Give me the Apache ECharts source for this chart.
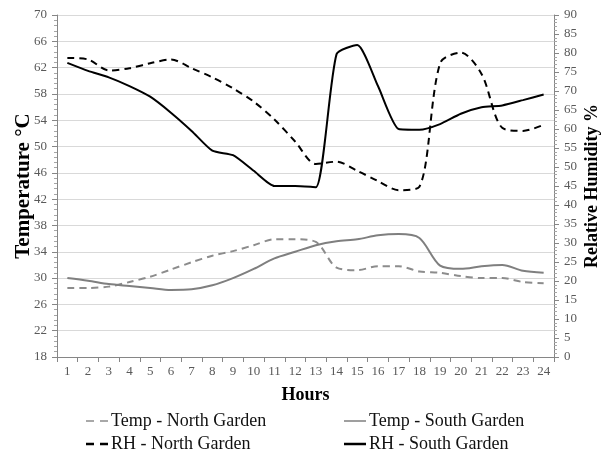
<!DOCTYPE html>
<html>
<head>
<meta charset="utf-8">
<script src="https://cdn.jsdelivr.net/npm/echarts@6/dist/echarts.min.js"></script>
<style>html,body{margin:0;padding:0;background:#fff}#c{width:606px;height:455px}</style>
</head>
<body>
<div id="c"></div>
<script>
const hours = ['1','2','3','4','5','6','7','8','9','10','11','12','13','14','15','16','17','18','19','20','21','22','23','24'];
const tempNorth = [28.5,28.5,28.7,29.4,30.2,31.3,32.4,33.4,34.1,35.0,35.9,35.9,35.5,31.6,31.2,31.8,31.8,31.0,30.8,30.3,30.0,30.0,29.4,29.2];
const tempSouth = [30.0,29.6,29.1,28.8,28.5,28.2,28.3,28.9,30.0,31.4,33.0,34.0,35.0,35.6,35.9,36.5,36.7,36.1,31.9,31.4,31.8,32.0,31.1,30.8];
const rhNorth = [78.7,78.3,75.4,76.0,77.3,78.3,76.0,73.6,70.7,67.2,62.5,56.7,50.8,51.4,49.0,46.3,43.9,44.8,77.3,80.1,74.5,60.3,59.5,61.1];
const rhSouth = [77.4,75.3,73.6,71.3,68.5,64.3,59.5,54.3,53.1,49.0,45.0,45.0,44.7,79.7,82.1,71.3,60.0,59.8,61.3,64.0,65.7,66.2,67.6,69.1];

const FONT = 'Liberation Serif';
const chart = echarts.init(document.getElementById('c'), null, {renderer: 'canvas'});
const axisGray = '#868686';
const labelGray = '#595959';
const DASH_THIN = 'path://M0,0H8V1.5H0Z M14,0H22V1.5H14Z';
const SOLID_THIN = 'path://M0,0H22V1.5H0Z';
const DASH_THICK = 'path://M0,0H8V2.5H0Z M14,0H22V2.5H14Z';
const SOLID_THICK = 'path://M0,0H22V2.5H0Z';
function legendAt(name, icon, h, left, top) {
  return {
    data: [{name: name, icon: icon}], left: left, top: top, itemWidth: 22, itemHeight: h,
    itemStyle: {borderWidth: 0},
    textStyle: {fontFamily: FONT, fontSize: 18, color: '#111', padding: [0, 0, 0, -2]}, padding: 0
  };
}
chart.setOption({
  animation: false,
  backgroundColor: '#fff',
  grid: {left: 57, right: 52, top: 15, bottom: 98, containLabel: false, outerBoundsMode: 'none'},
  legend: [
    legendAt('Temp - North Garden', DASH_THIN, 1.5, 86, 412),
    legendAt('Temp - South Garden', SOLID_THIN, 1.5, 344, 412),
    legendAt('RH - North Garden', DASH_THICK, 2.5, 86, 435),
    legendAt('RH - South Garden', SOLID_THICK, 2.5, 344, 435)
  ],
  xAxis: {
    type: 'category', data: hours, boundaryGap: true,
    name: 'Hours', nameLocation: 'middle', nameGap: 29,
    nameTextStyle: {fontFamily: FONT, fontSize: 18, fontWeight: 'bold', color: '#000'},
    axisLine: {lineStyle: {color: axisGray}},
    axisTick: {show: true, length: 5, lineStyle: {color: axisGray}},
    axisLabel: {fontFamily: FONT, fontSize: 13, color: labelGray, margin: 8, interval: 0},
    splitLine: {show: false}
  },
  yAxis: [
    {
      type: 'value', min: 18, max: 70, interval: 4, position: 'left',
      name: 'Temperature °C', nameLocation: 'middle', nameGap: 23, nameRotate: 90, nameMoveOverlap: false,
      nameTextStyle: {fontFamily: FONT, fontSize: 21, fontWeight: 'bold', color: '#000'},
      axisLine: {show: true, lineStyle: {color: axisGray}},
      axisTick: {show: true, length: 5, lineStyle: {color: axisGray}},
      minorTick: {show: true, splitNumber: 5, length: 3, lineStyle: {color: '#a6a6a6'}},
      axisLabel: {fontFamily: FONT, fontSize: 13, color: labelGray, margin: 10},
      splitLine: {show: true, lineStyle: {color: '#d9d9d9', width: 1}}
    },
    {
      type: 'value', min: 0, max: 90, interval: 5, position: 'right',
      name: 'Relative Humidity %', nameLocation: 'middle', nameGap: 29, nameRotate: 90, nameMoveOverlap: false,
      nameTextStyle: {fontFamily: FONT, fontSize: 18, fontWeight: 'bold', color: '#000'},
      axisLine: {show: true, lineStyle: {color: axisGray}},
      axisTick: {show: true, length: 5, lineStyle: {color: axisGray}},
      minorTick: {show: true, splitNumber: 5, length: 3, lineStyle: {color: '#a6a6a6'}},
      axisLabel: {fontFamily: FONT, fontSize: 13, color: labelGray, margin: 10},
      splitLine: {show: false}
    }
  ],
  series: [
    {name: 'Temp - North Garden', type: 'line', yAxisIndex: 0, data: tempNorth, symbol: 'none', smooth: 0.3,
     lineStyle: {color: '#8c8c8c', width: 2, type: [7, 5]}, itemStyle: {color: '#8c8c8c'}},
    {name: 'Temp - South Garden', type: 'line', yAxisIndex: 0, data: tempSouth, symbol: 'none', smooth: 0.3,
     lineStyle: {color: '#7f7f7f', width: 2}, itemStyle: {color: '#7f7f7f'}},
    {name: 'RH - North Garden', type: 'line', yAxisIndex: 1, data: rhNorth, symbol: 'none', smooth: 0.3,
     lineStyle: {color: '#000', width: 2, type: [7, 5]}, itemStyle: {color: '#000'}},
    {name: 'RH - South Garden', type: 'line', yAxisIndex: 1, data: rhSouth, symbol: 'none', smooth: 0.2,
     lineStyle: {color: '#000', width: 2}, itemStyle: {color: '#000'}}
  ]
});
</script>
</body>
</html>
